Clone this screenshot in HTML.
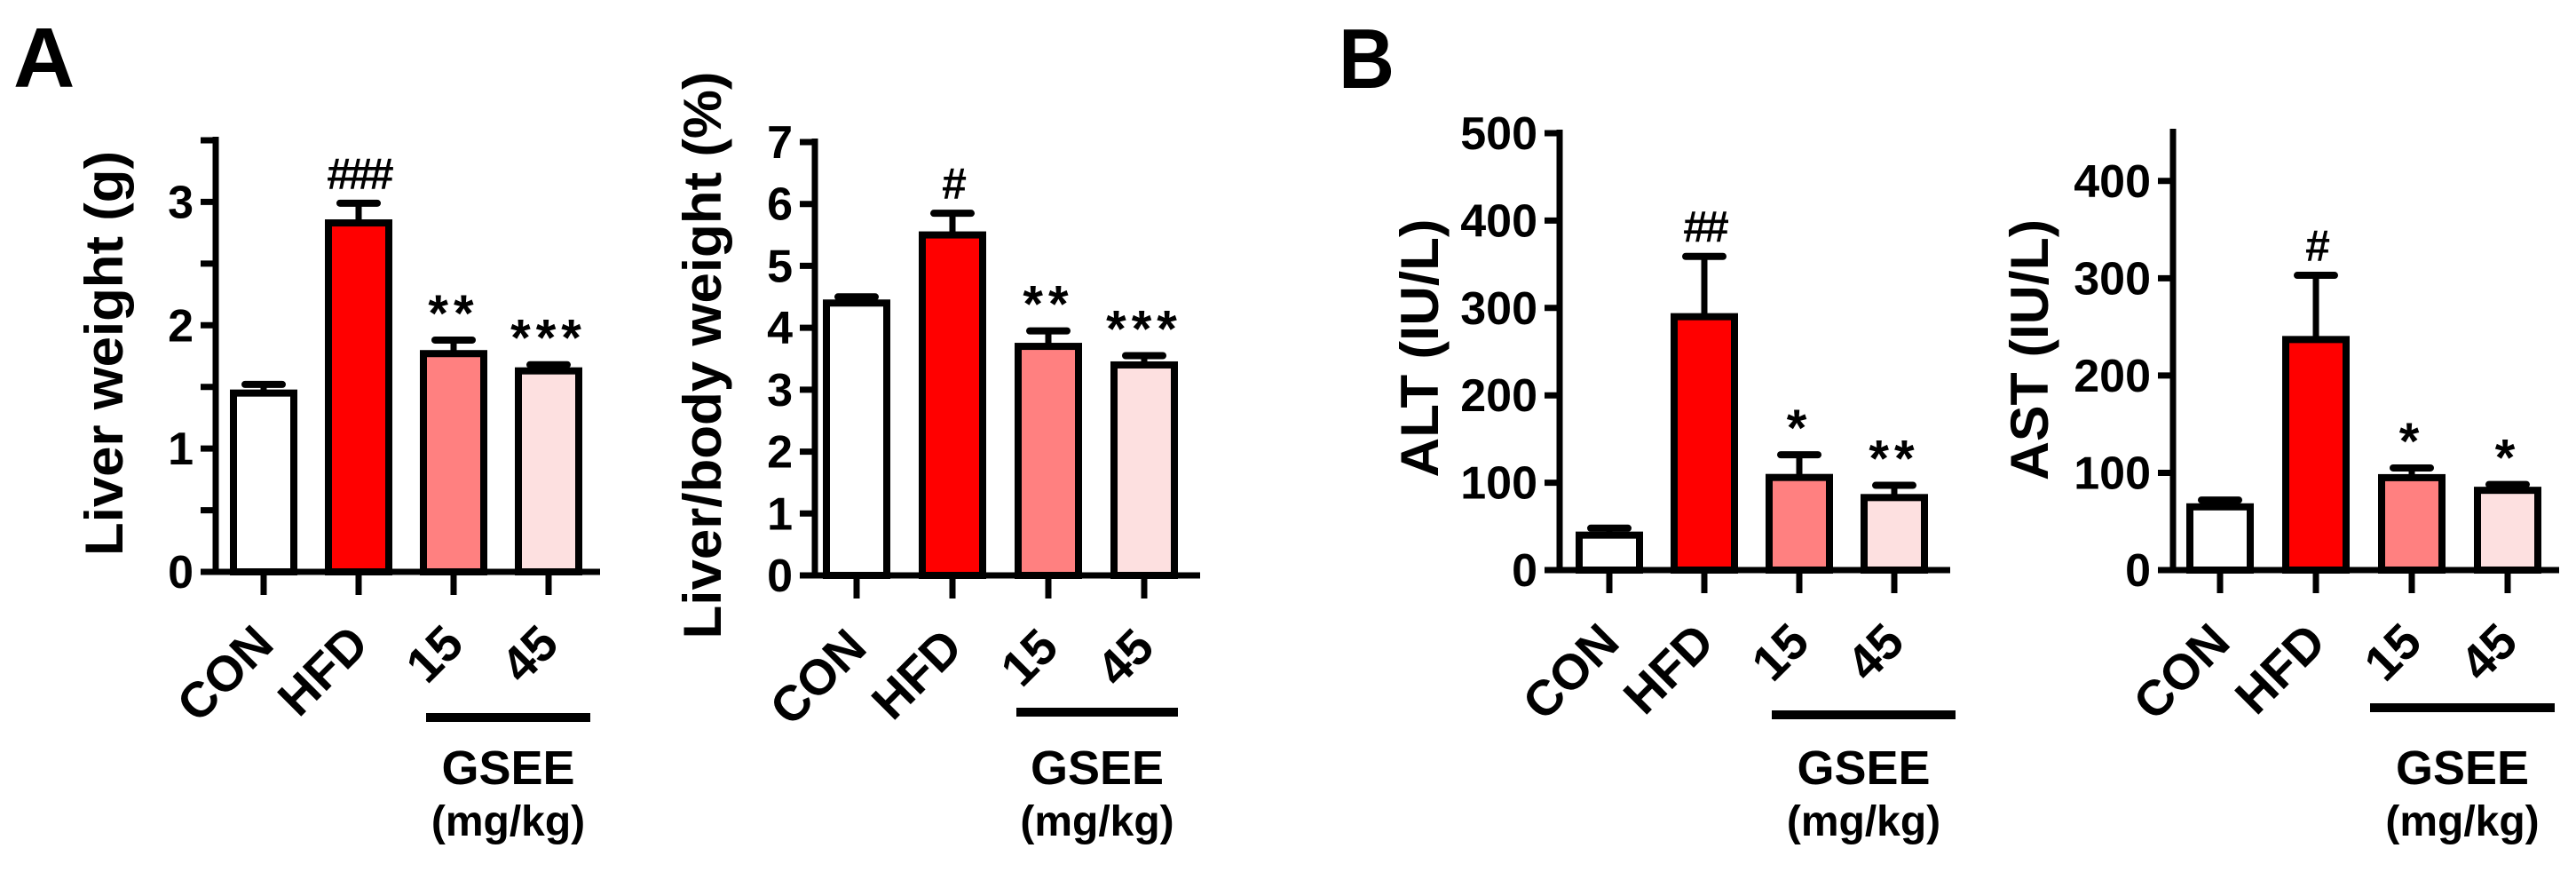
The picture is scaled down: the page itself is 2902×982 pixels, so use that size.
<!DOCTYPE html>
<html><head><meta charset="utf-8">
<style>
html,body{margin:0;padding:0;background:#fff;}
svg{display:block;font-family:"Liberation Sans",Arial,sans-serif;}
</style></head>
<body>
<svg id="fig" width="2902" height="982" viewBox="0 0 2902 982" xmlns="http://www.w3.org/2000/svg">
<text x="15" y="98" font-size="96" font-weight="bold">A</text>
<text x="1508" y="99" font-size="96" font-weight="bold" textLength="63" lengthAdjust="spacingAndGlyphs">B</text>
</svg>
<script>
const categories = ["CON", "HFD", "15", "45"];
const colors = ["#ffffff", "#ff0000", "#ff8080", "#fde0e0"];
const liverMeans = [1.45, 2.83, 1.77, 1.63];
const liverErrs = [0.07, 0.16, 0.11, 0.05];
const liverMarks = ["", "###", "**", "***"];
const liverTicks = [0, 1, 2, 3];
const ratioMeans = [4.4, 5.5, 3.7, 3.4];
const ratioErrs = [0.1, 0.35, 0.25, 0.15];
const ratioMarks = ["", "#", "**", "***"];
const ratioTicks = [0, 1, 2, 3, 4, 5, 6, 7];
const altMeans = [40, 290, 106, 83];
const altErrs = [8, 69, 26, 14];
const altMarks = ["", "##", "*", "**"];
const altTicks = [0, 100, 200, 300, 400, 500];
const astMeans = [65, 237, 95, 82];
const astErrs = [7, 66, 10, 6];
const astMarks = ["", "#", "*", "*"];
const astTicks = [0, 100, 200, 300, 400];

const svg = document.getElementById('fig');
const NS = 'http://www.w3.org/2000/svg';
function mk(tag, attrs, parent) {
  const e = document.createElementNS(NS, tag);
  for (const k in attrs) e.setAttribute(k, attrs[k]);
  (parent || svg).appendChild(e);
  return e;
}

function panel(cfg, means, errs, marks, ticks) {
  const g = mk('g', {});
  
  
  const yS = v => cfg.y0 - (v - cfg.min) / (cfg.max - cfg.min) * (cfg.y0 - cfg.yTop);
  const ya = mk('line', {x1: cfg.ax, y1: cfg.yTop - 4, x2: cfg.ax, y2: cfg.y0 + 3, stroke: '#000', 'stroke-width': 7}, g);
  
  
  const xa = mk('line', {x1: cfg.ax - 3, y1: cfg.y0, x2: cfg.xEnd, y2: cfg.y0, stroke: '#000', 'stroke-width': 7}, g);
  
  
  ticks.forEach(t => {
    const y = yS(t);
    mk('line', {x1: cfg.ax - 17, y1: y, x2: cfg.ax, y2: y, stroke: '#000', 'stroke-width': 7}, g);
    const tl = mk('text', {x: cfg.ax - 25, y: y + 18, 'font-size': 52, 'font-weight': 'bold', 'text-anchor': 'end'}, g);
    tl.textContent = t;
    
    
  });
  if (cfg.minor) {
    for (let i = 0; i < ticks.length; i++) {
      const y = yS(ticks[i] + cfg.minor);
      if (y < cfg.yTop - 1) break;
      mk('line', {x1: cfg.ax - 17, y1: y, x2: cfg.ax, y2: y, stroke: '#000', 'stroke-width': 7}, g);
    }
  }
  const tt = mk('text', {x: 0, y: 0, 'font-size': 60, 'font-weight': 'bold', 'text-anchor': 'middle',
    textLength: cfg.tLen, lengthAdjust: 'spacingAndGlyphs',
    transform: `translate(${cfg.tX + 22},${cfg.tY}) rotate(-90)`}, g);
  tt.textContent = cfg.title;
  
  
  categories.forEach((c, i) => {
    const cx = cfg.c0 + i * cfg.step;
    const top = yS(means[i]);
    const eTop = yS(means[i] + errs[i]);
    const el = mk('line', {x1: cx, y1: top, x2: cx, y2: eTop, stroke: '#000', 'stroke-width': 7}, g);
    
    
    mk('line', {x1: cx - 21, y1: eTop, x2: cx + 21, y2: eTop, stroke: '#000', 'stroke-width': 8, 'stroke-linecap': 'round'}, g);
    const r = mk('rect', {x: cx - 34, y: top, width: 68, height: cfg.y0 - top, fill: colors[i], stroke: '#000', 'stroke-width': 8}, g);
    
    
    mk('line', {x1: cx, y1: cfg.y0, x2: cx, y2: cfg.y0 + 26, stroke: '#000', 'stroke-width': 7}, g);
    if (marks[i]) {
      const isHash = marks[i][0] === '#';
      const m = mk('text', {x: cx, y: isHash ? eTop - 16 : eTop - 10, 'font-size': isHash ? 50 : 58,
        'font-weight': 'bold', 'text-anchor': 'middle', 'letter-spacing': isHash ? -4 : 6}, g);
      m.textContent = marks[i];
      
      
    }
    const lbl = mk('text', {x: 0, y: 0, 'font-size': 56, 'font-weight': 'bold', 'text-anchor': 'end',
      transform: `translate(${cx + 14},${cfg.y0 + 84}) rotate(-45)`}, g);
    lbl.textContent = c;
    
    
  });
  const gl = mk('line', {x1: cfg.gx1, y1: cfg.gy, x2: cfg.gx2, y2: cfg.gy, stroke: '#000', 'stroke-width': 10}, g);
  
  
  const gc = (cfg.gx1 + cfg.gx2) / 2;
  const t1 = mk('text', {x: gc, y: 883, 'font-size': 54, 'font-weight': 'bold', 'text-anchor': 'middle'}, g);
  t1.textContent = 'GSEE';
  
  
  const t2 = mk('text', {x: gc, y: 941, 'font-size': 48, 'font-weight': 'bold', 'text-anchor': 'middle'}, g);
  t2.textContent = '(mg/kg)';
  
  
}

panel({name: 'liver-weight-chart', ax: 243, y0: 644, yTop: 158, min: 0, max: 3.5, minor: 0.5, xEnd: 676,
  c0: 297, step: 107, title: 'Liver weight (g)', tX: 116, tY: 398, tLen: 456, gx1: 480, gx2: 665, gy: 808},
  liverMeans, liverErrs, liverMarks, liverTicks);
panel({name: 'liver-body-ratio-chart', ax: 918, y0: 648, yTop: 160, min: 0, max: 7, xEnd: 1352,
  c0: 965, step: 108, title: 'Liver/body weight (%)', tX: 790, tY: 400, tLen: 639, gx1: 1145, gx2: 1327, gy: 802},
  ratioMeans, ratioErrs, ratioMarks, ratioTicks);
panel({name: 'alt-chart', ax: 1757, y0: 642, yTop: 150, min: 0, max: 500, xEnd: 2197,
  c0: 1813, step: 107, title: 'ALT (IU/L)', tX: 1598, tY: 392, tLen: 291, gx1: 1996, gx2: 2203, gy: 805},
  altMeans, altErrs, altMarks, altTicks);
panel({name: 'ast-chart', ax: 2448, y0: 642, yTop: 149, min: 0, max: 450, xEnd: 2883,
  c0: 2501, step: 108, title: 'AST (IU/L)', tX: 2285, tY: 394, tLen: 294, gx1: 2670, gx2: 2878, gy: 797},
  astMeans, astErrs, astMarks, astTicks);
</script>
</body></html>
